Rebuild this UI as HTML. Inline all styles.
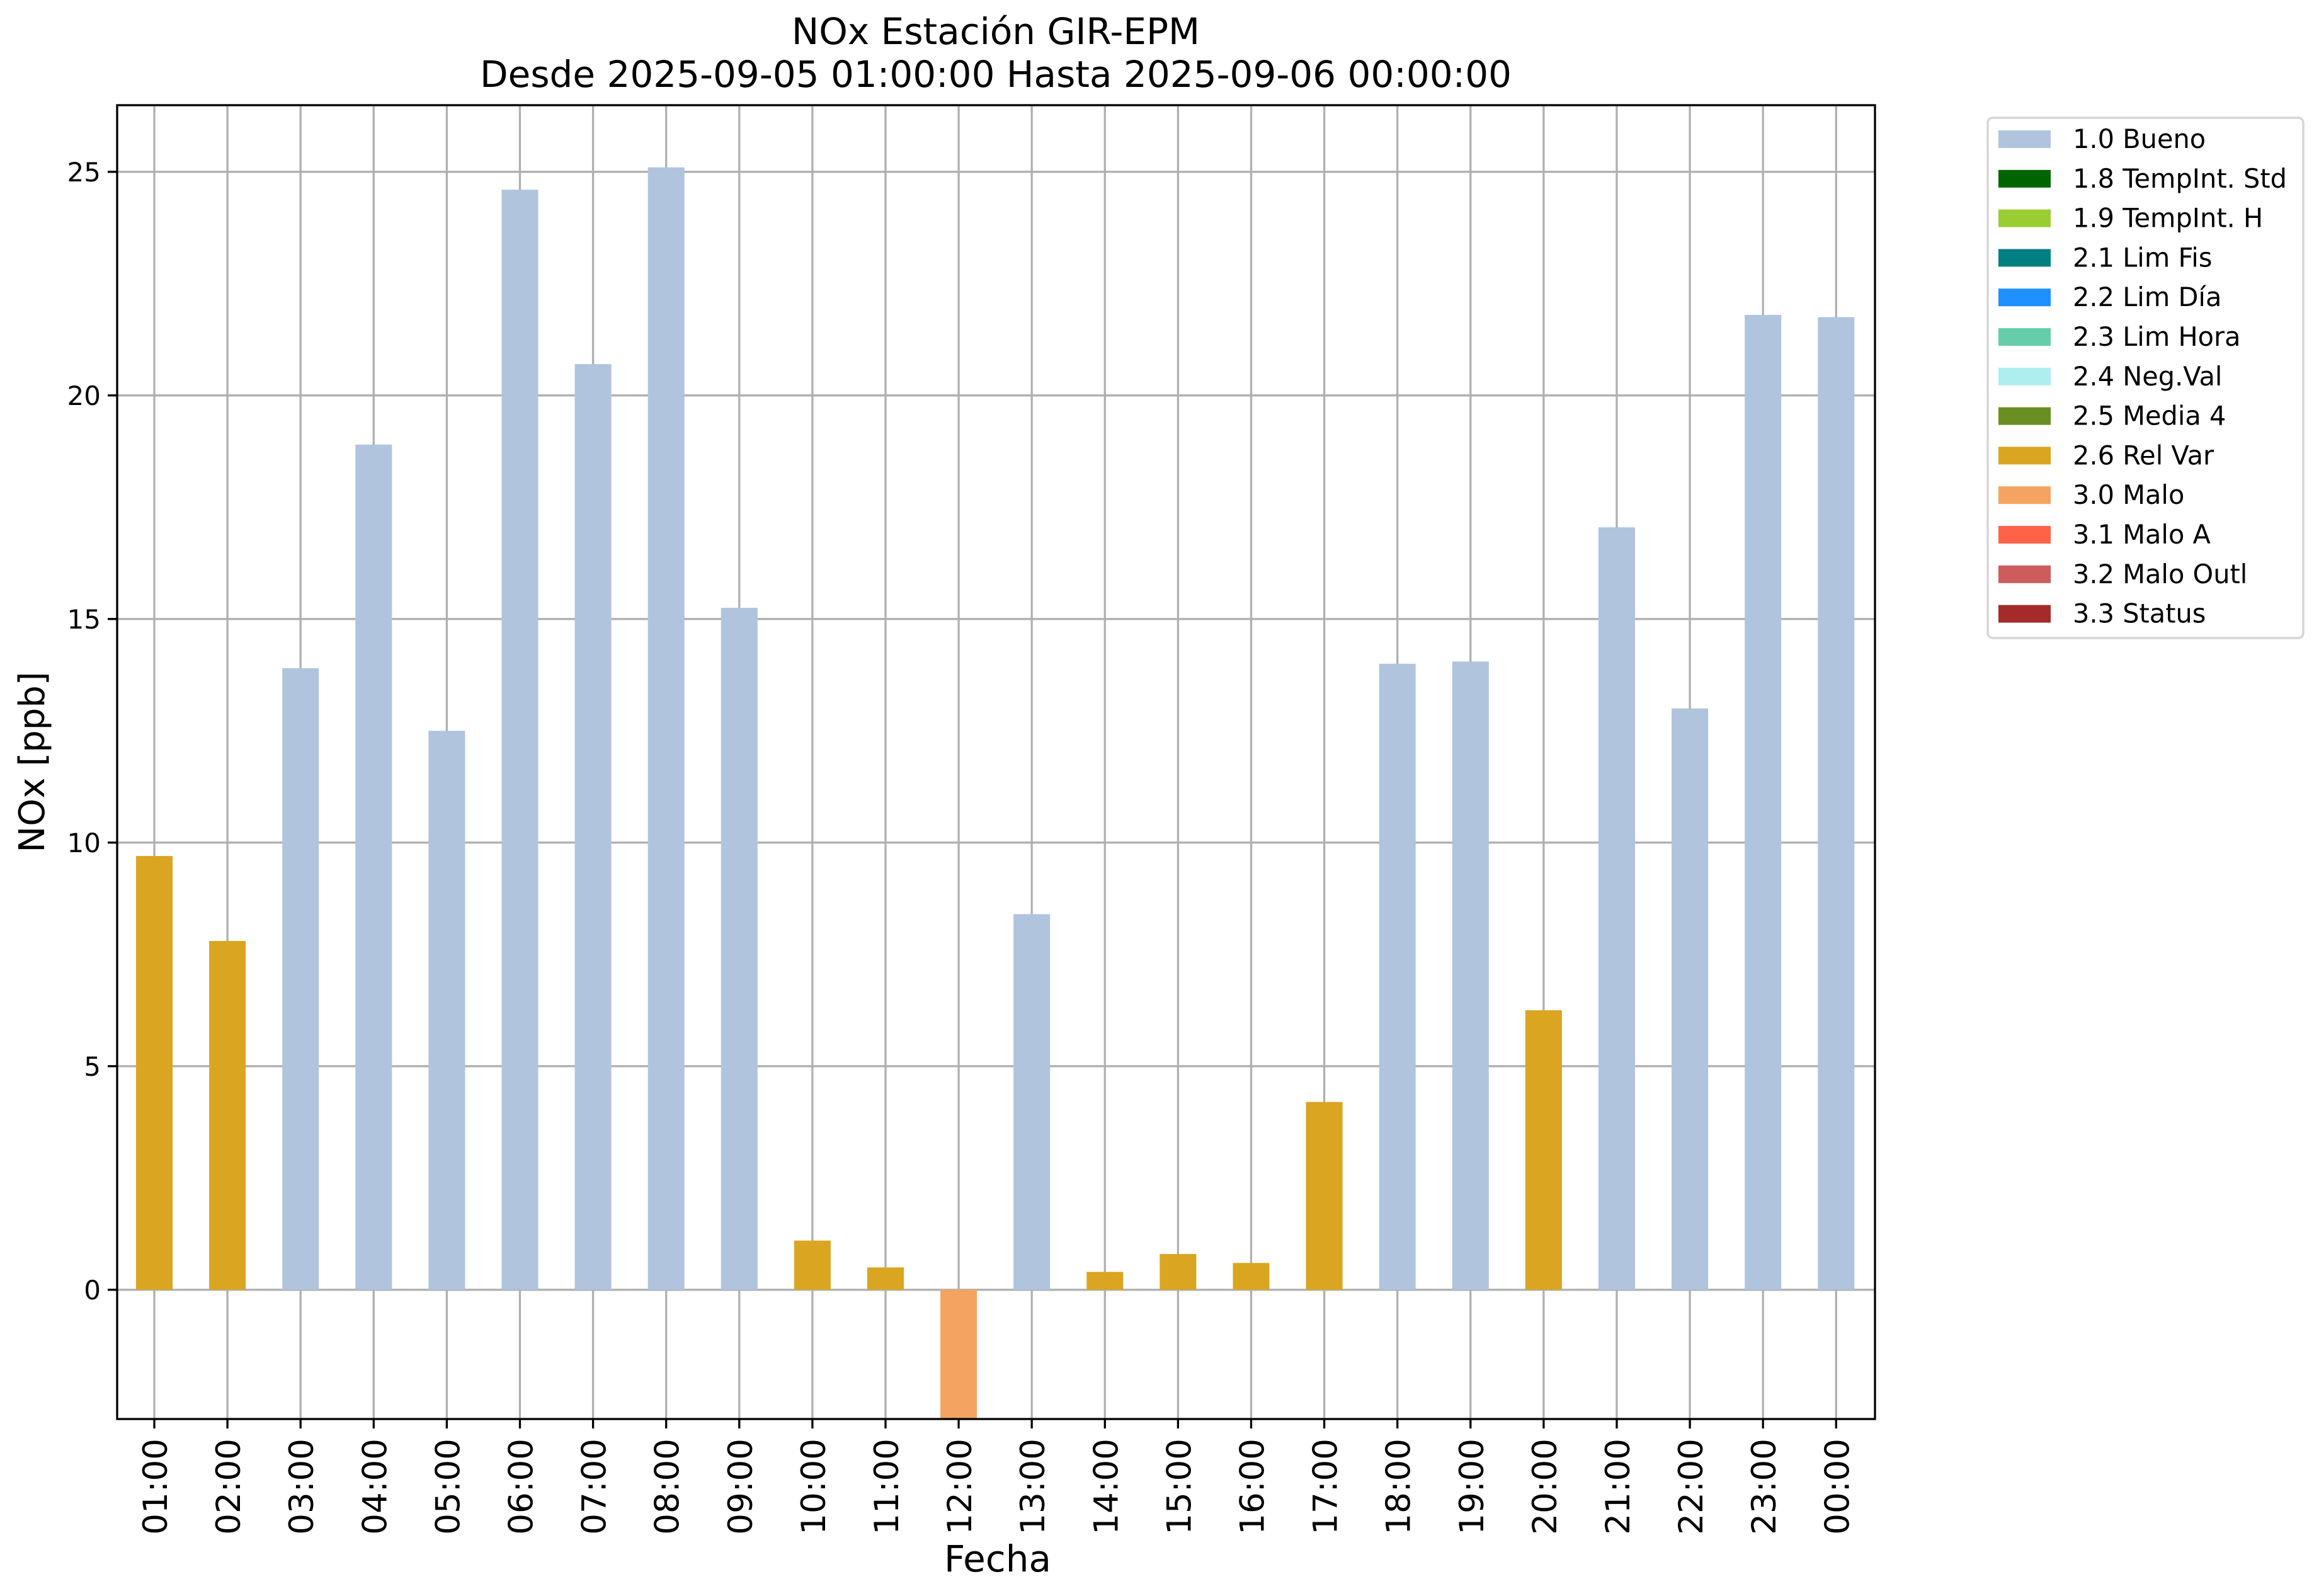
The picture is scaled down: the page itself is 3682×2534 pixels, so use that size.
<!DOCTYPE html>
<html><head><meta charset="utf-8"><style>
html,body{margin:0;padding:0;background:#fff;}
svg{display:block;font-family:"DejaVu Sans","Liberation Sans",sans-serif;}
</style></head><body>
<svg id="chart" width="3682" height="2534" viewBox="0 0 3682 2534" xmlns="http://www.w3.org/2000/svg">
<rect width="3682" height="2534" fill="#fff"/>
<text x="1581" y="70" font-size="58" text-anchor="middle">NOx Estación GIR-EPM</text>
<text x="1581" y="138" font-size="58" text-anchor="middle">Desde 2025-09-05 01:00:00 Hasta 2025-09-06 00:00:00</text>
<g id="grid"></g>
<g id="bars"></g>
<g id="axes"></g>
<text x="70" y="1210" font-size="56" text-anchor="middle" transform="rotate(-90 70 1210)">NOx [ppb]</text>
<text x="1584" y="2495" font-size="58" text-anchor="middle">Fecha</text>
<g id="legend"></g>
</svg>
<script>
const categories = ["01:00","02:00","03:00","04:00","05:00","06:00","07:00","08:00","09:00","10:00","11:00","12:00","13:00","14:00","15:00","16:00","17:00","18:00","19:00","20:00","21:00","22:00","23:00","00:00"];
const values = [9.7,7.8,13.9,18.9,12.5,24.6,20.7,25.1,15.25,1.1,0.5,-2.9,8.4,0.4,0.8,0.6,4.2,14.0,14.05,6.25,17.05,13.0,21.8,21.75];
const flags = ["2.6","2.6","1.0","1.0","1.0","1.0","1.0","1.0","1.0","2.6","2.6","3.0","1.0","2.6","2.6","2.6","2.6","1.0","1.0","2.6","1.0","1.0","1.0","1.0"];
const yTicks = [0,5,10,15,20,25];
const legendLabels = ["1.0 Bueno","1.8 TempInt. Std","1.9 TempInt. H","2.1 Lim Fis","2.2 Lim Día","2.3 Lim Hora","2.4 Neg.Val","2.5 Media 4","2.6 Rel Var","3.0 Malo","3.1 Malo A","3.2 Malo Outl","3.3 Status"];
const legendColors = ["#b0c4de","#006400","#9acd32","#008080","#1e90ff","#66cdaa","#afeeee","#6b8e23","#daa520","#f4a460","#ff6347","#cd5c5c","#a52a2a"];

const NS="http://www.w3.org/2000/svg";
const L=186,R=2977,T=167,B=2253;
const yMin=-2.89,yMax=26.49;
const y=v=>B-(v-yMin)/(yMax-yMin)*(B-T);
const step=116.1, x0=245;
const x=i=>x0+i*step;
const bw=step*0.5;
function mk(tag,attrs,parent){const e=document.createElementNS(NS,tag);for(const k in attrs)e.setAttribute(k,attrs[k]);parent.appendChild(e);return e;}
const grid=document.getElementById('grid'),bars=document.getElementById('bars'),axes=document.getElementById('axes'),leg=document.getElementById('legend');
const colorFor=f=>legendColors[legendLabels.findIndex(l=>l.startsWith(f))];

yTicks.forEach(t=>{
  const g=mk('line',{x1:L,x2:R,y1:y(t),y2:y(t),stroke:'#b0b0b0','stroke-width':3.3},grid);
  
  
  const tk=mk('line',{x1:L-15,x2:L,y1:y(t),y2:y(t),stroke:'#000','stroke-width':3.3},axes);
  
  
  const tx=mk('text',{x:L-26,y:y(t)+15,'font-size':42,'text-anchor':'end'},axes);
  tx.textContent=t;
  
  
});
categories.forEach((c,i)=>{
  const g=mk('line',{x1:x(i),x2:x(i),y1:T,y2:B,stroke:'#b0b0b0','stroke-width':3.3},grid);
  
  
  const v=values[i];
  const r=mk('rect',{x:x(i)-bw/2,y:Math.min(y(v),y(0)),width:bw,height:Math.abs(y(v)-y(0)),fill:colorFor(flags[i])},bars);
  
  
  const tk=mk('line',{x1:x(i),x2:x(i),y1:B,y2:B+15,stroke:'#000','stroke-width':3.3},axes);
  
  
  const tx=mk('text',{x:0,y:0,'font-size':53,'text-anchor':'end',transform:`translate(${x(i)+20},${B+31}) rotate(-90)`},axes);
  tx.textContent=c;
  
  
});
const frame=mk('rect',{x:L,y:T,width:R-L,height:B-T,fill:'none',stroke:'#000','stroke-width':3.3},axes);



const box=mk('rect',{x:3156,y:187,width:501,height:826,rx:8,fill:'#fff',stroke:'#d6d6d6','stroke-width':3.5},leg);


legendLabels.forEach((l,i)=>{
  const cy=221+i*62.8;
  const p=mk('rect',{x:3173,y:cy-14,width:83,height:28,fill:legendColors[i]},leg);
  
  
  const t=mk('text',{x:3291,y:cy+14,'font-size':41.5},leg);
  t.textContent=l;
  
  
});
</script>
</body></html>
